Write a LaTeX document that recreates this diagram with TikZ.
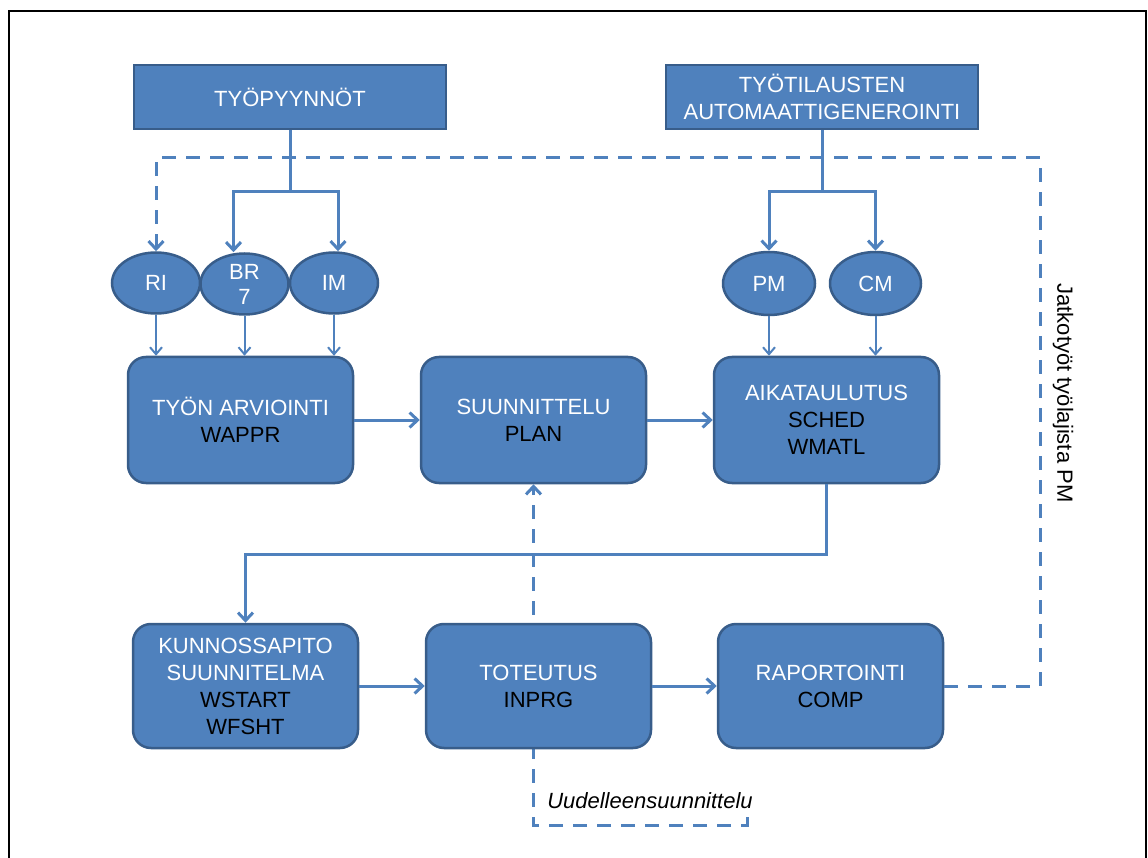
\documentclass[tikz,border=0pt]{standalone}
\usepackage{fontspec}
\setmainfont{Liberation Sans}
\usetikzlibrary{arrows.meta,shapes.geometric,backgrounds}
\definecolor{boxfill}{HTML}{4F81BD}
\definecolor{boxedge}{HTML}{385D8A}
\definecolor{wire}{HTML}{4F81BD}
\newcommand\statecode[1]{\textcolor{black}{#1}}
\begin{document}
\begin{tikzpicture}[x=1pt,y=-1pt,
  every node/.style={font=\fontsize{22}{27}\selectfont},
  header/.style={draw=boxedge, line width=2.5pt, fill=boxfill, text=white,
    minimum width=312pt, minimum height=64pt, align=center, inner sep=0pt},
  wtype/.style={ellipse, draw=boxedge, line width=2.5pt, fill=boxfill, text=white,
    minimum width=88pt, minimum height=61pt, align=center, inner sep=0pt,
    font=\fontsize{22}{25}\selectfont},
  stage/.style={draw=boxedge, line width=2.5pt, fill=boxfill, text=white,
    rounded corners=18pt, minimum width=225pt, minimum height=126pt,
    align=center, inner sep=2pt},
  conn/.style={draw=wire, line width=3pt},
  tip/.style={-{Straight Barb[length=8pt,width=15pt]}},
  feed/.style={draw=wire, line width=2pt, -{Straight Barb[length=7pt,width=12pt]}},
  loopline/.style={draw=wire, line width=3pt, dash pattern=on 14pt off 10pt},
  note/.style={text=black}]

\useasboundingbox (0,0) rectangle (1148,858);

% outer frame, running off the lower edge
\begin{scope}
  \clip (0,0) rectangle (1148,858);
  \draw[line width=2pt] (9,880) -- (9,11) -- (1146,11) -- (1146,880);
\end{scope}

% sources of work orders
\node[header] (req) at (290,97) {TYÖPYYNNÖT};
\node[header] (gen) at (822,97) {TYÖTILAUSTEN\\AUTOMAATTIGENEROINTI};

% work types
\node[wtype] (ri) at (156,283) {RI};
\node[wtype] (br) at (244.5,284) {BR\\7};
\node[wtype] (im) at (334,283) {IM};
\node[wtype, minimum width=92pt, minimum height=63pt] (pm) at (769,283.5) {PM};
\node[wtype, minimum width=91pt, minimum height=63pt] (cm) at (875.5,283.5) {CM};

% process stages
\node[stage] (arv) at (240.5,420) {TYÖN ARVIOINTI\\\statecode{WAPPR}};
\node[stage] (suu) at (533.5,420) {SUUNNITTELU\\\statecode{PLAN}};
\node[stage] (aik) at (826.5,420) {AIKATAULUTUS\\\statecode{SCHED}\\\statecode{WMATL}};
\node[stage, minimum height=124pt] (kun) at (245.5,686)
  {KUNNOSSAPITO\\SUUNNITELMA\\\statecode{WSTART}\\\statecode{WFSHT}};
\node[stage, minimum height=124pt] (tot) at (538.5,686) {TOTEUTUS\\\statecode{INPRG}};
\node[stage, minimum height=124pt] (rap) at (830.5,686) {RAPORTOINTI\\\statecode{COMP}};

% forks from the sources to the work types
\path (req.south) ++(0,61) coordinate (reqfork);
\draw[conn] (req.south) -- (reqfork);
\draw[conn,tip] (reqfork) -| ([xshift=-11pt]br.north);
\draw[conn,tip] (reqfork) -| ([xshift=4pt]im.north);

\path (gen.south) ++(0,61) coordinate (genfork);
\draw[conn] (gen.south) -- (genfork);
\draw[conn,tip] (genfork) -| (pm.north);
\draw[conn,tip] (genfork) -| (cm.north);

% work types into the stages
\draw[feed] (ri.south) -- (ri.south |- arv.north);
\draw[feed] (br.south) -- (br.south |- arv.north);
\draw[feed] (im.south) -- (im.south |- arv.north);
\draw[feed] (pm.south) -- (pm.south |- aik.north);
\draw[feed] (cm.south) -- (cm.south |- aik.north);

% main flow
\draw[conn,tip] (arv) -- (suu);
\draw[conn,tip] (suu) -- (aik);
\draw[conn,tip] (aik.south) -- ++(0,70) -| (kun.north);
\draw[conn,tip] (kun) -- (tot);
\draw[conn,tip] (tot) -- (rap);

% follow-up work back to RI
\coordinate (loopcorner) at (1040,158);
\draw[loopline,tip] (rap.east) -| (loopcorner) -| (ri.north);
\node[note, rotate=-90] (jatko) at (1063,393) {Jatkotyöt työlajista PM};

% replanning loop, passing behind TOTEUTUS
\coordinate (replan) at (747,817);
\begin{scope}[on background layer]
  \draw[loopline,tip] (replan) -- ++(0,8) -| (suu.south);
\end{scope}
\node[note, font=\fontsize{22}{27}\selectfont\itshape] (replanlabel) at (650,801)
  {Uudelleensuunnittelu};

\end{tikzpicture}
\end{document}
